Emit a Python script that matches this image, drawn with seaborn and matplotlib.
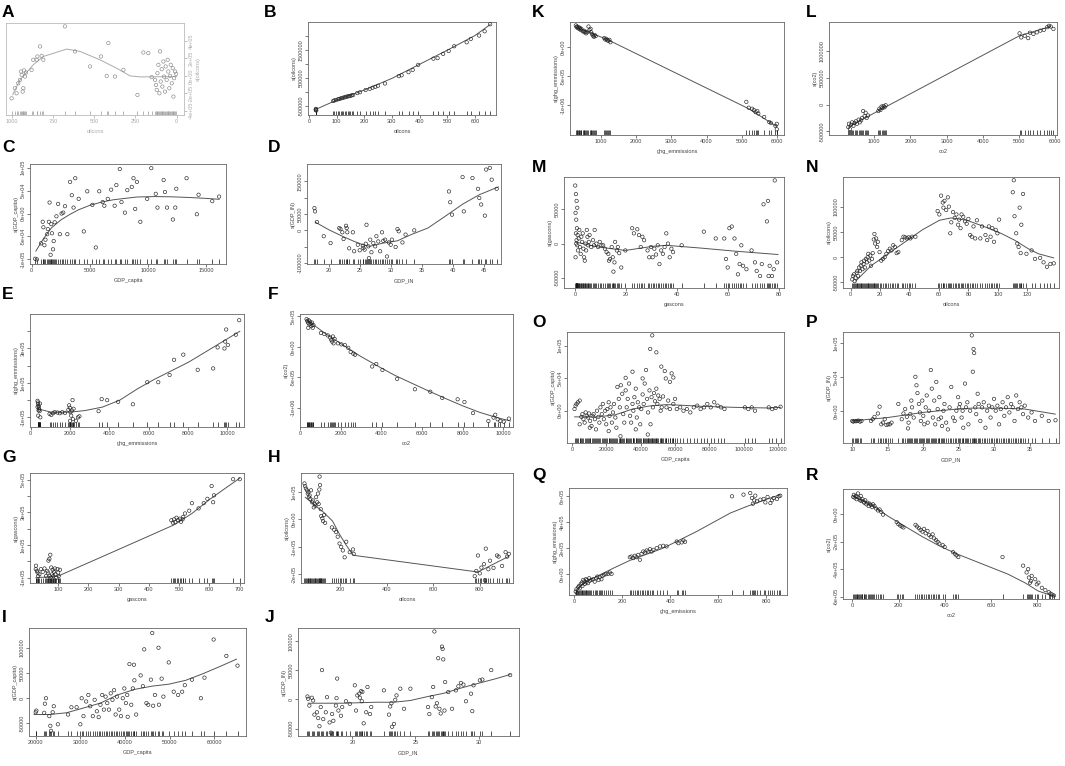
import matplotlib
matplotlib.use('Agg')
import matplotlib.pyplot as plt
import seaborn as sns

W, H = 1065, 766

# ---------------- data (x, partial residual) and smooth fits ----------------
a_pts = [(1000, -258000), (980, -142000), (970, -200000), (960, -85000), (949, -46000), (943, 50000),
         (939, 12000), (933, -181000), (929, -142000), (925, 62000), (919, -8000), (913, 38000),
         (879, 69000), (869, 185000), (848, 185000), (844, 223000), (828, 338000), (818, 231000),
         (808, 185000), (677, 569000), (616, 281000), (525, 108000), (459, 223000), (414, 377000),
         (424, 0), (374, -8000), (323, 69000), (238, -219000), (202, 269000), (172, 262000),
         (152, -15000), (131, -46000), (125, -104000), (121, -162000), (117, 31000), (111, 127000),
         (105, -200000), (101, 281000), (97, -65000), (91, 77000), (87, -123000), (81, 165000),
         (77, -8000), (71, -181000), (67, 108000), (61, -46000), (55, 185000), (51, 50000),
         (45, -142000), (41, 0), (36, 127000), (30, -85000), (24, 88000), (20, -238000),
         (16, -27000), (10, 50000), (4, 23000)]
a_fit = [(994, -219000), (949, -46000), (869, 127000), (808, 223000), (667, 308000), (586, 281000),
         (465, 185000), (364, 88000), (283, 0), (222, -12000), (0, -8000)]

b_pts = [(25, -640000), (26, -600000), (27, -660000), (25, -620000), (88, -320000), (92, -300000),
         (98, -290000), (105, -260000), (110, -250000), (115, -230000), (120, -220000), (125, -200000),
         (130, -190000), (135, -170000), (140, -160000), (145, -150000), (150, -140000), (155, -120000),
         (160, -110000), (175, -40000), (185, -10000), (205, 70000), (220, 110000), (230, 150000),
         (240, 180000), (250, 220000), (275, 300000), (325, 560000), (335, 590000), (360, 700000),
         (375, 780000), (395, 960000), (450, 1180000), (465, 1200000), (485, 1350000), (505, 1450000),
         (525, 1620000), (570, 1760000), (585, 1880000), (615, 2000000), (635, 2150000), (655, 2400000)]
b_fit = [(25, -620000), (100, -290000), (200, 65000), (300, 480000), (400, 980000), (500, 1480000),
         (600, 2000000), (655, 2390000)]

c_pts = [(294, -98500), (441, -100000), (794, -65000), (941, -18000), (1000, -30000), (1088, -69000),
         (1176, -57000), (1324, -45000), (1382, -34000), (1470, -18000), (1530, 24000), (1618, -90000),
         (1676, -23000), (1735, -43000), (1824, -78000), (1882, -60000), (1970, -19000), (2118, -6000),
         (2265, 21000), (2412, -45000), (2560, 0), (2706, 2000), (2853, 16000), (3059, -45000),
         (3294, 69000), (3440, 40000), (3590, 13000), (3735, 77000), (4030, 32000), (4470, -39000),
         (4765, 48500), (5206, 19000), (5500, -74000), (5794, 48500), (6088, 25000), (6235, 17000),
         (6530, 32000), (6820, 52000), (7118, 17000), (7265, 62000), (7560, 97000), (7706, 25000),
         (8000, 2000), (8206, 51000), (8590, 58000), (8735, 77000), (8882, 10000), (9030, 69000),
         (9324, -18000), (9912, 32000), (10265, 99000), (10647, 43000), (10794, 13000), (11324, 73000),
         (11440, 47000), (11618, 13000), (12118, -13000), (12324, 13000), (12412, 54000), (13294, 77000),
         (14176, -1500), (14324, 41000), (15500, 27000), (16088, 37000)]
c_fit = [(350, -82000), (1000, -55000), (1700, -31000), (2500, -14000), (3200, -3000), (4000, 8000),
         (5000, 18000), (6000, 25000), (7000, 30000), (8000, 33000), (9000, 36000), (10500, 37000),
         (12000, 36500), (13500, 35000), (15000, 33000), (16100, 31000)]

d_pts = [(17.7, 68000), (17.8, 58000), (18.1, 25500), (19.2, -18000), (20.3, -39000), (21.7, 7000),
         (21.9, 4000), (22.2, -6000), (22.4, -26500), (22.8, 14000), (22.9, 7000), (23.0, -6000),
         (23.3, -55000), (23.9, -6000), (24.1, -64000), (24.7, -44000), (25.0, -61000), (25.5, -47000),
         (25.6, -54000), (25.8, -59000), (26.0, -41000), (26.1, 17000), (26.4, -49000), (26.5, -85000),
         (26.7, -28500), (26.9, -67000), (27.2, -39000), (27.5, -49000), (27.7, -18000), (28.0, -34000),
         (28.3, -64000), (28.6, -6000), (28.8, -32000), (29.1, -28500), (29.4, -80000), (29.7, -37000),
         (30.0, -44000), (30.2, -28500), (30.8, -51000), (31.1, 4000), (31.3, -3000), (31.9, -37000),
         (32.4, -13000), (33.8, 0), (39.4, 119000), (39.6, 86000), (39.9, 48000), (41.6, 163000),
         (41.8, 58000), (43.2, 160000), (44.1, 127000), (44.3, 99000), (44.6, 79000), (45.2, 45000),
         (45.4, 186000), (46.0, 191000), (46.3, 155000), (47.1, 127000)]
d_fit = [(17.8, 25500), (20.0, 2000), (22.2, -18000), (24.0, -33000), (25.5, -44000), (26.6, -49000),
         (28.8, -39000), (31.1, -32000), (33.3, -13000), (36.0, 7000), (38.8, 43000), (41.6, 80000),
         (44.3, 109000), (47.4, 133000)]

e_pts = [(349, -4000), (367, -14000), (384, -24000), (401, -34000), (419, -44000), (436, -54000),
         (454, -64000), (384, -90000), (489, -100000), (349, -40000), (401, -60000), (471, -20000),
         (960, -80000), (1047, -86000), (1134, -76000), (1222, -70000), (1361, -72000), (1483, -76000),
         (1606, -70000), (1745, -74000), (1920, -56000), (1955, -30000), (1990, -44000), (2024, -70000),
         (2059, -90000), (2094, -60000), (2129, 0), (2146, -110000), (2007, -120000), (2181, -50000),
         (2304, -120000), (2408, -100000), (2478, -94000), (3455, -64000), (3613, 6000), (3892, 0),
         (4450, -10000), (5200, -24000), (5934, 104000), (6492, 104000), (7068, 146000), (7295, 234000),
         (7766, 264000), (8499, 176000), (9285, 184000), (9512, 306000), (9861, 300000), (9896, 340000),
         (9948, 410000), (10035, 320000), (10437, 380000), (10611, 464000)]
e_fit = [(349, -50000), (1047, -70000), (2007, -70000), (2792, -60000), (3665, -40000), (4537, 0),
         (5410, 64000), (6283, 120000), (7155, 170000), (8028, 220000), (8901, 280000), (9773, 340000),
         (10646, 400000)]

f_pts = [(304, 455000), (337, 426000), (371, 398000), (405, 437500), (438, 369000), (472, 415000),
         (506, 381000), (540, 341000), (573, 398000), (607, 312500), (641, 358000), (388, 312500),
         (1012, 227000), (1180, 210000), (1349, 187500), (1467, 153000), (1518, 114000), (1568, 85000),
         (1602, 170000), (1636, 57000), (1686, 131000), (1855, 57000), (2024, 40000), (2192, 28400),
         (2361, -17000), (2479, -85000), (2614, -114000), (2698, -131000), (3541, -324000),
         (3744, -284000), (4047, -381000), (4772, -528000), (5649, -699000), (6408, -739000),
         (6998, -841000), (7757, -864000), (8094, -909000), (8516, -1091000), (9275, -1222000),
         (9528, -1165000), (9612, -1119000), (9730, -1193000), (9865, -1222000), (10034, -1233000),
         (10287, -1182000)]
f_fit = [(337, 437500), (1265, 210000), (2108, 28400), (2951, -153000), (3794, -312500),
         (4637, -466000), (5480, -597000), (6324, -727000), (7167, -852000), (8010, -972000),
         (8853, -1080000), (9696, -1165000), (10371, -1222000)]

g_pts = [(26, -47000), (30, -58000), (32, -68000), (34, -89500), (27, -26000), (38, -79000),
         (43, -47000), (49, -64000), (55, -43000), (60, -89500), (64, -58000), (66, -68000),
         (68, 5000), (71, 16000), (72, -89500), (74, 41000), (75, -100000), (77, -37000), (80, -79000),
         (82, -51000), (84, -89500), (86, -64000), (89, -43000), (91, -79000), (94, -100000),
         (98, -47000), (100, -68000), (102, -89500), (106, -51000), (474, 252000), (479, 237000),
         (483, 258000), (487, 241000), (491, 268000), (496, 254000), (502, 262000), (506, 243000),
         (511, 258000), (513, 273000), (519, 294000), (533, 311000), (542, 357000), (564, 325000),
         (581, 357000), (593, 384000), (607, 462000), (612, 363000), (615, 405000), (678, 504000),
         (700, 504000)]
g_fit = [(26, -100000), (100, -89500), (247, 30500), (383, 142000), (485, 226000), (542, 294000),
         (599, 378000), (655, 452000), (700, 510000)]

h_pts = [(45, 131000), (48, 121000), (51, 112500), (56, 106000), (59, 94000), (62, 100000), (64, 81000),
         (67, 87500), (70, 75000), (73, 106000), (78, 62500), (81, 69000), (85, 44000), (89, 56000),
         (92, 50000), (95, 81000), (100, 62500), (103, 94000), (106, 56000), (109, 109000),
         (110, 156000), (112, 125000), (115, 37500), (117, 12500), (122, 4000), (125, -6000),
         (129, 16000), (134, -12500), (163, -29000), (173, -37500), (181, -46000), (188, -62500),
         (196, -87500), (203, -100000), (210, -112500), (218, -137500), (225, -81000), (240, -119000),
         (254, -109000), (257, -125000), (778, -206000), (785, -187500), (792, -131000), (800, -196000),
         (807, -175000), (818, -162500), (822, -221000), (826, -106000), (837, -181000), (844, -150000),
         (859, -176000), (874, -131000), (881, -135000), (896, -169000), (911, -119000), (918, -135000),
         (925, -125000)]
h_fit = [(48, 81000), (92, 50000), (129, 25000), (166, -6000), (196, -54000), (225, -94000),
         (254, -129000), (262, -131000), (792, -191000), (925, -134000)]

i_pts = [(20000, -28000), (20150, -24700), (21900, -29000), (22060, -11000), (22300, 0), (23050, -35700),
         (23280, -55000), (23430, -65000), (23800, -28000), (24050, -16000), (24960, -52000),
         (27250, -32500), (28000, -18000), (29160, -18000), (30000, -52000), (30300, 0), (30700, -35700),
         (31300, -6500), (31800, 6500), (32200, -16000), (32800, -35700), (33200, -3200), (33700, -26000),
         (34100, -37700), (34500, -13000), (34900, 6500), (35270, -22700), (35650, 3200), (36030, -9700),
         (36400, -22700), (36800, 9700), (37200, -3200), (37550, 16000), (37900, -32500), (38200, 3200),
         (38700, -22700), (39100, -35700), (39500, 0), (39850, 19500), (40200, -9700), (40500, 6500),
         (40600, -37000), (41000, 68000), (41400, -13000), (41750, 19500), (42000, 66700), (42100, 35700),
         (42500, -32500), (43500, 45500), (44000, 24000), (44300, 97400), (44800, -9700), (45200, -13000),
         (45800, 37000), (46100, 130000), (46300, -15000), (46700, 6500), (47500, 100600), (47600, -13000),
         (48200, 39000), (48600, 3200), (49800, 71400), (50900, 13000), (51900, 6500), (52800, 13000),
         (53400, 26000), (55000, 37000), (57000, 0), (57800, 41000), (59850, 117000), (62700, 84400),
         (65200, 65000)]
i_fit = [(19600, -32500), (23000, -32500), (26900, -29000), (30700, -19500), (34500, -9700),
         (38300, 6500), (42100, 17500), (46000, 24000), (49800, 28000), (53600, 35700), (57400, 48700),
         (61200, 63000), (65000, 78000)]

j_pts = [(16.45, 5200), (16.5, 1200), (16.6, -10500), (16.8, 3000), (16.9, -1700), (17.0, -26000),
         (17.2, -22000), (17.3, -32000), (17.4, -46000), (17.5, -13000), (17.6, 50600), (17.7, -33700),
         (17.9, -22000), (18.0, 4000), (18.2, -39500), (18.3, -57000), (18.4, -25000), (18.5, -36600),
         (18.7, -10500), (18.75, 2300), (18.8, 36000), (18.9, -19000), (19.1, -28000), (19.2, -13000),
         (19.5, -3000), (19.8, -7500), (20.2, 24400), (20.3, -19000), (20.4, 7000), (20.55, 10000),
         (20.6, 3000), (20.7, 14500), (20.75, -3000), (20.8, 13000), (20.9, -41000), (21.1, -22000),
         (21.2, 21500), (21.4, -25000), (21.5, -13000), (22.5, 15700), (22.9, -26000), (23.0, -12000),
         (23.1, -6400), (23.15, -47000), (23.3, -42000), (23.4, -600), (23.5, 7000), (23.8, 18600),
         (24.1, -16000), (24.6, 18600), (26.0, -13000), (26.1, -25000), (26.3, 4000), (26.4, 21500),
         (26.5, 117000), (26.6, -12000), (26.7, -6400), (26.8, 71000), (26.9, -16000), (27.0, -24000),
         (27.1, 91000), (27.15, 87000), (27.2, 69000), (27.3, -19000), (27.35, 30000), (27.6, 12800),
         (27.9, -16000), (28.2, 15700), (28.4, 22700), (28.6, 28500), (28.8, 25600), (29.0, -3000),
         (29.4, 10000), (29.5, -20000), (29.6, 24400), (30.1, 33000), (30.3, 34300), (31.0, 50600),
         (32.5, 42000)]
j_fit = [(16.5, -6400), (19.2, -6400), (21.9, -4700), (23.3, -4700), (24.6, -1700), (26.0, 5200),
         (27.3, 11000), (28.7, 20300), (30.1, 28500), (31.4, 36000), (32.5, 43000)]

k_pts = [(291, 371000), (311, 341000), (330, 353000), (350, 324000), (369, 341000), (388, 312000),
         (408, 329000), (427, 294000), (447, 312000), (485, 271000), (515, 282000), (534, 253000),
         (563, 265000), (583, 235000), (612, 253000), (650, 353000), (680, 294000), (709, 312000),
         (728, 253000), (748, 224000), (777, 194000), (806, 176000), (825, 206000), (854, 188000),
         (1097, 153000), (1126, 129000), (1155, 141000), (1184, 118000), (1214, 106000), (1243, 124000),
         (1272, 82000), (5126, -941000), (5194, -1041000), (5291, -1059000), (5340, -1082000),
         (5388, -1118000), (5437, -1100000), (5466, -1141000), (5631, -1200000), (5777, -1288000),
         (5825, -1306000), (5951, -1353000), (5990, -1412000), (5990, -1318000)]
k_fit = [(291, 341000), (1165, 135000), (5194, -1059000), (5990, -1365000)]

l_pts = [(283, -421000), (302, -358000), (331, -460000), (359, -377000), (388, -332000), (426, -396000),
         (455, -345000), (493, -313000), (522, -358000), (570, -281000), (598, -332000), (637, -294000),
         (665, -249000), (694, -121000), (732, -217000), (761, -153000), (790, -249000), (828, -204000),
         (1115, -121000), (1143, -77000), (1172, -102000), (1201, -38000), (1229, -64000), (1258, -26000),
         (1287, -51000), (1315, -13000), (5015, 1328000), (5063, 1252000), (5159, 1284000),
         (5254, 1239000), (5302, 1341000), (5398, 1315000), (5493, 1347000), (5589, 1379000),
         (5685, 1392000), (5780, 1443000), (5828, 1469000), (5876, 1456000), (5952, 1411000)]
l_fit = [(283, -421000), (1191, -89000), (5015, 1284000), (5876, 1456000)]

m_pts = [(0, 85000), (0.27, 72500), (0.54, 62500), (0.8, 52500), (0.13, 45000), (0.4, 35000),
         (0.67, 22500), (0.94, 12500), (0.27, 15000), (0.54, 5000), (0.8, -2500), (1.07, -10000),
         (0.13, -20000), (0.4, 0), (1.34, 7500), (1.6, 20000), (1.87, -5000), (2.14, -15000),
         (2.41, 10000), (2.68, 2500), (2.94, 15000), (3.21, -7500), (3.48, -20000), (3.75, -25000),
         (4.01, 0), (4.28, -10000), (4.55, 20000), (4.82, 10000), (5.08, -2500), (5.35, 2500),
         (5.62, 12500), (6.29, -5000), (6.96, 5000), (7.36, -2500), (7.63, 20000), (8.3, 0),
         (8.96, -5000), (9.63, 2500), (10.3, -2500), (10.97, -2500), (11.64, -7500), (12.31, -12500),
         (12.98, -15000), (13.25, -25000), (13.65, -22500), (14.32, -5000), (14.72, -20000),
         (14.99, -41000), (15.39, -27500), (15.65, 2500), (16.32, -10000), (16.73, -5000),
         (17.26, -14000), (18.06, -35000), (19.67, -10000), (22.34, 22500), (23.01, 15000),
         (24.35, 21000), (25.02, 12500), (25.69, -5000), (26.36, 10000), (27.03, 5000), (28.37, -10000),
         (29.03, -20000), (29.7, -5000), (30.37, -20000), (31.04, -7500), (31.71, -16000),
         (32.38, -2500), (33.05, -30000), (33.72, -10000), (34.39, -15000), (35.06, -5000),
         (35.72, 15000), (36.39, 0), (37.06, -20000), (37.73, -7500), (38.4, -12500), (41.75, -2500),
         (50.44, 17500), (55.12, 7500), (58.47, 7500), (59.14, -22500), (59.81, -35000), (60.48, 22500),
         (61.41, 25000), (62.48, 7500), (63.15, -15000), (63.82, -45000), (64.49, -30000),
         (65.16, -2500), (65.83, -32500), (67.17, -37500), (69.17, -10000), (70.51, -27500),
         (71.18, -40000), (72.52, -47500), (73.19, -30000), (73.86, 57500), (75.2, 32500),
         (75.6, 62500), (75.86, -47500), (76.27, -32500), (77.2, -47500), (77.87, -37500),
         (78.27, 92500), (79.21, -27500)]
m_fit = [(0, 2500), (9, -5000), (19.7, -10000), (30.4, -4000), (35.7, -2500), (49.1, -6500),
         (62.5, -11000), (79.6, -16000)]

n_pts = [(1.16, -44300), (1.62, -37500), (2.32, -34100), (2.78, -47700), (3.48, -40900), (4.17, -30700),
         (4.63, -27300), (5.1, -37500), (5.79, -20500), (6.49, -27300), (6.95, -17000), (7.41, -10200),
         (8.11, -23900), (8.8, -13600), (9.27, -6800), (9.73, -20500), (10.43, -3400), (11.12, -10200),
         (11.59, 0), (12.05, 6800), (12.74, -6800), (13.44, 3400), (13.9, -17000), (14.6, -3400),
         (15.06, 8200), (15.76, 35500), (16.22, 46400), (16.68, 27300), (17.38, 37500), (18.07, 20500),
         (18.54, 30700), (19.69, 10200), (20.85, -6800), (22.01, -3400), (23.17, 0), (24.33, 6800),
         (25.49, 12300), (26.65, 17000), (27.8, 13600), (28.96, 23900), (30.12, 20500), (31.28, 8200),
         (32.44, 10200), (34.76, 34100), (35.91, 40900), (37.07, 39600), (38.23, 37500), (39.39, 39600),
         (40.55, 37500), (41.71, 40900), (44.02, 40900), (59.08, 92100), (60.24, 85300), (61.4, 122800),
         (62.56, 109100), (63.02, 98900), (63.72, 112500), (64.88, 94100), (66.03, 119400),
         (66.73, 100900), (67.66, 47700), (68.35, 69600), (69.51, 90000), (70.67, 78400), (71.83, 85300),
         (72.99, 64800), (73.68, 75000), (74.61, 58000), (75.3, 85300), (76.46, 80500), (77.62, 71600),
         (78.78, 66800), (79.94, 76400), (81.1, 44300), (82.25, 40900), (83.41, 61400), (84.57, 37500),
         (85.73, 73700), (88.05, 37500), (89.2, 61400), (91.52, 44300), (92.68, 34100), (93.84, 61400),
         (95.0, 40900), (96.16, 58000), (97.31, 30700), (98.47, 54600), (99.63, 47700), (100.79, 75000),
         (110.06, 129600), (110.75, 153500), (111.22, 81800), (112.37, 47700), (113.07, 27300),
         (113.99, 20500), (114.69, 98900), (115.39, 8200), (115.85, 64800), (117.01, 126200),
         (119.33, 6800), (122.8, 13600), (125.12, -3400), (128.6, -1400), (130.91, -10200),
         (133.23, -19100), (135.55, -13600), (137.86, -12300)]
n_fit = [(3.5, -47700), (13.9, -17000), (25.5, 6800), (37.1, 30700), (48.7, 54600), (60.3, 73700),
         (68.4, 78400), (78.8, 73700), (90.4, 61400), (102.0, 47700), (111.2, 34100), (120.5, 17000),
         (127.5, 6800), (137.9, -1400)]

o_pts = [(1400, 2600), (2000, 7800), (2600, 10400), (3400, 13000), (4400, 15600), (5400, -9400),
         (6000, -5200), (6600, -13000), (7300, -18200), (7900, -2600), (8500, -7800), (9300, -10400),
         (9900, -4200), (10500, -15600), (11300, -23400), (11900, -7800), (12500, -5200), (13300, -13000),
         (13900, -28600), (14500, 0), (15300, -9400), (15900, -18200), (16500, 5200), (17300, -5200),
         (17900, 10400), (18500, -13000), (19300, 0), (19900, -20800), (20500, 2600), (21300, 13000),
         (21800, -7800), (22400, 5200), (23200, -18200), (23800, -2600), (24400, 10400), (25200, -10400),
         (25800, -26000), (26400, 36500), (27200, 18200), (27800, 5200), (28400, 39100), (29200, 26000),
         (29800, -5200), (30400, -18200), (31200, 31200), (31800, 5200), (32400, 18200), (33200, 41700),
         (33800, -7800), (34400, -18200), (35200, 10400), (35700, 0), (36300, 20800), (37100, 33900),
         (37700, -10400), (38300, 13000), (39100, 5200), (39700, -20800), (40300, 2600), (41100, 25000),
         (41700, 10400), (42300, 41700), (43100, 62500), (43700, 18200), (44300, -2600), (45100, 31200),
         (45700, -20800), (46300, 20800), (47100, 5200), (47700, 27100), (48300, 14600), (49100, 33900),
         (49700, 10400), (50200, 23400), (51000, 18200), (51600, 0), (52200, 5200), (53000, 21900),
         (55000, 5200), (56000, 15600), (57000, 2600), (59000, 10400), (60000, 18200), (61000, 2600),
         (63000, 5200), (64900, 0), (66900, 2600), (68900, -2600), (70900, 5200), (72900, 7800),
         (74900, 2600), (76900, 5200), (78800, 10400), (80800, 5200), (82800, 13000), (84800, 7800),
         (86800, 5200), (88800, 2600), (100700, 5200), (102700, 2600), (104700, 5200), (106600, 0),
         (114600, 5200), (116600, 2600), (118600, 4200), (121500, 6200), (46700, 115600), (45500, 94800),
         (49100, 89600), (52000, 67700), (54000, 60900), (41100, 49500), (35200, 59900), (31200, 50500),
         (58000, 57300), (59000, 51000), (54600, 49500), (57000, 44300), (10300, -26000), (4400, -20800),
         (21300, -31200), (28200, -39100), (44100, -36500), (37100, -28600)]
o_fit = [(1390, -9400), (15300, -9400), (25200, -6250), (35150, 2600), (45100, 7300), (55000, 9400),
         (64900, 8300), (74900, 6800), (94700, 5200), (114600, 4200), (121500, 5200)]

p_pts = [(10.0, -15000), (10.14, -16000), (10.34, -15000), (10.53, -15500), (10.72, -15000),
         (10.87, -14500), (11.11, -16000), (11.3, -15000), (12.64, -15000), (12.88, -12500),
         (13.13, -9000), (13.61, -4000), (13.85, 6000), (14.09, -20000), (14.33, -17500), (14.57, -12500),
         (14.81, -21000), (15.05, -20000), (15.29, -20000), (15.53, -17500), (16.49, 10000),
         (16.97, -12500), (17.21, -4000), (17.45, 2500), (17.69, -9000), (17.84, -26000), (17.93, -17500),
         (18.17, -5000), (18.32, 15000), (18.41, 5000), (18.65, -10000), (18.89, 50000), (19.04, 37500),
         (19.18, 26000), (19.38, 10000), (19.52, -2500), (19.66, -15000), (19.86, 15000), (20.0, -7500),
         (20.14, -20000), (20.34, 5000), (20.48, 22500), (20.63, -17500), (20.82, 0), (21.06, 60000),
         (21.2, 32500), (21.35, -10000), (21.54, 15000), (21.68, -20000), (21.83, 42500), (22.02, 2500),
         (22.16, -12500), (22.26, 20000), (22.5, -10000), (22.64, -22500), (22.84, 0), (22.98, 10000),
         (23.22, -17500), (23.46, -27500), (23.7, 5000), (23.94, 35000), (24.18, -10000), (24.42, -15000),
         (24.66, 0), (24.9, 20000), (25.05, 5000), (25.15, 10000), (25.39, -10000), (25.53, 0),
         (25.63, -25000), (25.87, 40000), (26.01, 5000), (26.2, 12500), (26.35, -20000), (26.59, 0),
         (26.83, 111000), (26.97, 57500), (27.07, 91000), (27.16, 85000), (27.31, 5000), (27.45, -5000),
         (27.65, 25000), (27.79, 10000), (28.03, -15000), (28.27, 5000), (28.51, 12500), (28.75, -25000),
         (28.99, 0), (29.23, 7500), (29.47, -10000), (29.71, 5000), (29.95, 17500), (30.19, 0),
         (30.43, 7500), (30.67, -20000), (30.91, 2500), (31.16, 12500), (31.4, -7500), (31.64, 5000),
         (31.88, 20000), (32.12, -2500), (32.36, 10000), (32.6, 5000), (32.84, -15000), (33.08, 22500),
         (33.32, 2500), (33.56, 12500), (33.8, 5000), (34.04, -5000), (34.28, 7500), (34.76, -10000),
         (35.24, -2500), (35.72, -15000), (36.68, -7500), (37.65, -15000), (38.61, -14000)]
p_fit = [(10.0, -15000), (15.0, -10000), (19.9, -2500), (24.7, 2500), (27.1, 4000), (31.9, 3500),
         (34.3, 2500), (38.6, -5000)]

q_pts = [(7, -134000), (10, -116000), (13, -147000), (17, -100000), (21, -90000), (24, -108000),
         (28, -75000), (32, -64000), (35, -90000), (38, -44000), (42, -57000), (45, -75000), (49, -39000),
         (51, -64000), (54, -44000), (58, -69000), (63, -31000), (65, -51000), (72, -44000), (79, -39000),
         (86, -57000), (93, -31000), (97, -18000), (102, -44000), (107, -23000), (114, -39000),
         (118, -13000), (124, -5000), (132, 0), (142, 2600), (149, 13000), (156, 2600), (232, 131000),
         (239, 136000), (246, 124000), (253, 142000), (260, 131000), (267, 149000), (274, 111000),
         (281, 157000), (288, 175000), (295, 167000), (302, 183000), (309, 175000), (316, 193000),
         (323, 175000), (330, 188000), (344, 201000), (358, 214000), (371, 219000), (385, 214000),
         (427, 252000), (434, 239000), (448, 245000), (455, 260000), (462, 250000), (657, 600000),
         (705, 613000), (733, 625000), (740, 587000), (744, 543000), (750, 569000), (754, 605000),
         (761, 561000), (775, 574000), (789, 579000), (796, 553000), (805, 595000), (817, 548000),
         (823, 569000), (830, 587000), (844, 579000), (851, 600000), (858, 605000)]
q_fit = [(10, -121000), (51, -57000), (163, 46000), (232, 106000), (371, 201000), (510, 329000),
         (650, 471000), (719, 522000), (789, 569000), (858, 613000)]

r_pts = [(4, 123000), (7, 138000), (10, 118000), (15, 130000), (19, 106000), (22, 123000), (25, 148000),
         (30, 113000), (34, 98000), (37, 130000), (40, 93000), (44, 106000), (49, 89000), (52, 81000),
         (56, 98000), (61, 69000), (66, 81000), (71, 57000), (75, 74000), (81, 64000), (86, 49000),
         (90, 69000), (96, 57000), (103, 39000), (111, 25000), (118, 32000), (125, 15000), (133, -5000),
         (192, -59000), (199, -74000), (207, -84000), (214, -91000), (221, -98000), (273, -79000),
         (280, -91000), (288, -103000), (295, -116000), (303, -128000), (310, -108000), (317, -140000),
         (325, -123000), (332, -153000), (339, -165000), (347, -148000), (354, -177000), (362, -189000),
         (369, -202000), (376, -214000), (391, -226000), (399, -239000), (435, -276000), (443, -288000),
         (450, -300000), (458, -312000), (649, -312000), (738, -374000), (753, -423000), (760, -399000),
         (763, -460000), (768, -497000), (772, -485000), (775, -448000), (790, -472000), (797, -509000),
         (804, -497000), (819, -534000), (834, -551000), (849, -566000), (856, -576000), (863, -583000),
         (871, -590000)]
r_fit = [(7, 123000), (81, 69000), (155, -17000), (229, -91000), (303, -165000), (376, -231000),
         (450, -288000), (524, -337000), (598, -386000), (672, -435000), (745, -497000), (804, -558000),
         (871, -595000)]

# ---------------- drawing ----------------
sns.set_theme(style='white')
plt.rcParams['font.family'] = ['Liberation Sans', 'DejaVu Sans']

fig = plt.figure(figsize=(W / 100, H / 100), dpi=100)
fig.patch.set_facecolor('white')

TXT = '#444444'


def panel(box, pts, fit, xlim, ylim, xticks, yticks, ylabels, xlabel, ylabel, faded=False):
    l, t, r, b = box
    ax = fig.add_axes([l / W, 1 - b / H, (r - l) / W, (b - t) / H])
    xs = [p[0] for p in pts]
    ys = [p[1] for p in pts]
    ink = '#888888' if faded else '#222222'
    sns.scatterplot(x=xs, y=ys, ax=ax, s=6, marker='o', facecolor='none', edgecolor=ink,
                    linewidth=0.45, legend=False, zorder=3)
    sns.lineplot(x=[p[0] for p in fit], y=[p[1] for p in fit], ax=ax,
                 color='#aaaaaa' if faded else '#555555', linewidth=0.7, sort=False, estimator=None)
    sns.rugplot(x=xs, ax=ax, height=0.045, color='#999999' if faded else '#111111', linewidth=0.5)
    ax.set_xlim(xlim)
    ax.set_ylim(ylim)
    ax.set_xticks(xticks)
    ax.set_xticklabels([str(v) for v in xticks])
    ax.set_yticks(yticks)
    ax.set_yticklabels(ylabels, rotation=90, va='center')
    ax.tick_params(bottom=True, left=not faded, right=faded, labelright=faded, labelleft=not faded,
                   length=2, width=0.5, pad=1.2, labelsize=4, colors='#aaaaaa' if faded else TXT,
                   direction='out')
    for s in ax.spines.values():
        s.set_color('#bbbbbb' if faded else '#666666')
        s.set_linewidth(0.6)
    ax.set_xlabel(xlabel, fontsize=4, color='#aaaaaa' if faded else TXT, labelpad=3.5)
    ax.set_ylabel(ylabel, fontsize=4, color='#aaaaaa' if faded else TXT, labelpad=1.5)
    if faded:
        ax.yaxis.set_label_position('right')
    return ax


panel((6, 23, 184, 115), a_pts, a_fit, (1034, -44), (-450000, 608000),
      [1000, 750, 500, 250, 0], [-400000, -200000, 0, 200000, 400000],
      ['-4e+05', '-2e+05', '0e+00', '2e+05', '4e+05'], 'oilcons', 's(oilcons)', faded=True)
panel((308, 22, 496, 115), b_pts, b_fit, (-3, 676), (-818000, 2480000),
      [0, 100, 200, 300, 400, 500, 600], [-500000, 0, 500000, 1000000, 1500000, 2000000],
      ['-500000', '', '500000', '', '1500000', ''], 'oilcons', 's(oilcons)')
panel((30, 164, 226, 264), c_pts, c_fit, (-150, 16680), (-110000, 108000),
      [0, 5000, 10000, 15000], [-100000, -50000, 0, 50000, 100000],
      ['-1e+05', '-5e+04', '0e+00', '5e+04', '1e+05'], 'GDP_capita', 's(GDP_capita)')
panel((307, 164, 501, 264), d_pts, d_fit, (16.5, 47.8), (-103000, 203000),
      [20, 25, 30, 35, 40, 45], [-100000, -50000, 0, 50000, 100000, 150000],
      ['-100000', '', '0', '50000', '', '150000'], 'GDP_IN', 's(GDP_IN)')
panel((30, 314, 244, 427), e_pts, e_fit, (-35, 10855), (-156000, 500000),
      [0, 2000, 4000, 6000, 8000, 10000], [-100000, 0, 100000, 200000, 300000, 400000],
      ['-1e+05', '', '1e+05', '', '3e+05', ''], 'ghg_emmissions', 's(ghg_emmissions)')
panel((300, 314, 513, 427), f_pts, f_fit, (-20, 10489), (-1320000, 540000),
      [0, 2000, 4000, 6000, 8000, 10000], [-1000000, -500000, 0, 500000],
      ['-1e+06', '-5e+05', '0e+00', '5e+05'], 'co2', 's(co2)')
panel((30, 473, 244, 583), g_pts, g_fit, (7, 714), (-132000, 542000),
      [100, 200, 300, 400, 500, 600, 700], [-100000, 0, 100000, 200000, 300000, 400000, 500000],
      ['-1e+05', '', '1e+05', '', '3e+05', '', '5e+05'], 'gascons', 's(gascons)')
panel((301, 473, 513, 583), h_pts, h_fit, (30, 943), (-231000, 169000),
      [200, 400, 600, 800], [-200000, -100000, 0, 100000],
      ['-2e+05', '-1e+05', '0e+00', '1e+05'], 'oilcons', 's(oilcons)')
panel((29, 628, 246, 736), i_pts, i_fit, (18500, 67100), (-75300, 140000),
      [20000, 30000, 40000, 50000, 60000], [-50000, 0, 50000, 100000],
      ['-50000', '0', '50000', '100000'], 'GDP_capita', 's(GDP_capita)')
panel((298, 628, 519, 736), j_pts, j_fit, (15.7, 33.2), (-62800, 123000),
      [20, 25, 30], [-50000, 0, 50000, 100000],
      ['-50000', '0', '50000', '100000'], 'GDP_IN', 's(GDP_IN)')
panel((570, 22, 784, 135), k_pts, k_fit, (126, 6194), (-1510000, 430000),
      [1000, 2000, 3000, 4000, 5000, 6000], [-1000000, -500000, 0],
      ['-1e+06', '-5e+05', '0e+00'], 'ghg_emmissions', 's(ghg_emmissions)')
panel((829, 22, 1057, 135), l_pts, l_fit, (-250, 6050), (-568000, 1540000),
      [1000, 2000, 3000, 4000, 5000, 6000], [-500000, 0, 500000, 1000000],
      ['-500000', '0', '500000', '1000000'], 'co2', 's(co2)')
panel((564, 177, 784, 288), m_pts, m_fit, (-4.4, 81.9), (-65000, 97500),
      [0, 20, 40, 60, 80], [-50000, 0, 50000],
      ['-50000', '0', '50000'], 'gascons', 's(gascons)')
panel((843, 177, 1059, 288), n_pts, n_fit, (-5.1, 141.4), (-61400, 160000),
      [0, 20, 40, 60, 80, 100, 120], [-50000, 0, 50000, 100000],
      ['-50000', '0', '50000', '100000'], 'oilcons', 's(oilcons)')
panel((567, 332, 784, 443), o_pts, o_fit, (-2980, 123500), (-49500, 120800),
      [0, 20000, 40000, 60000, 80000, 100000, 120000], [0, 50000, 100000],
      ['0e+00', '5e+04', '1e+05'], 'GDP_capita', 's(GDP_capita)')
panel((843, 332, 1059, 443), p_pts, p_fit, (8.7, 39.1), (-47500, 116000),
      [10, 15, 20, 25, 30, 35], [0, 50000, 100000],
      ['0e+00', '5e+04', '1e+05'], 'GDP_IN', 's(GDP_IN)')
panel((569, 488, 787, 595), q_pts, q_fit, (-21, 886), (-160000, 664000),
      [0, 200, 400, 600, 800], [0, 200000, 400000, 600000],
      ['0e+00', '2e+05', '4e+05', '6e+05'], 'ghg_emissions', 's(ghg_emissions)')
panel((843, 489, 1059, 599), r_pts, r_fit, (-40, 893), (-615000, 180000),
      [0, 200, 400, 600, 800], [-600000, -400000, -200000, 0],
      ['-6e+05', '-4e+05', '-2e+05', '0e+00'], 'co2', 's(co2)')

letters = ['A', 'B', 'C', 'D', 'E', 'F', 'G', 'H', 'I', 'J', 'K', 'L', 'M', 'N', 'O', 'P', 'Q', 'R']
letter_pos = [(2, 5), (264, 5), (2, 140), (268, 140), (2, 287), (268, 287), (2, 450), (268, 450),
              (2, 610), (265, 610), (532, 5), (806, 5), (532, 160), (806, 160), (532, 315), (806, 315),
              (532, 468), (806, 468)]
for s, (px, py) in zip(letters, letter_pos):
    fig.text(px / W, 1 - py / H, s, fontsize=12.5, fontweight='bold', color='black',
             ha='left', va='top')

fig.savefig('out.png', dpi=100, facecolor='white')
